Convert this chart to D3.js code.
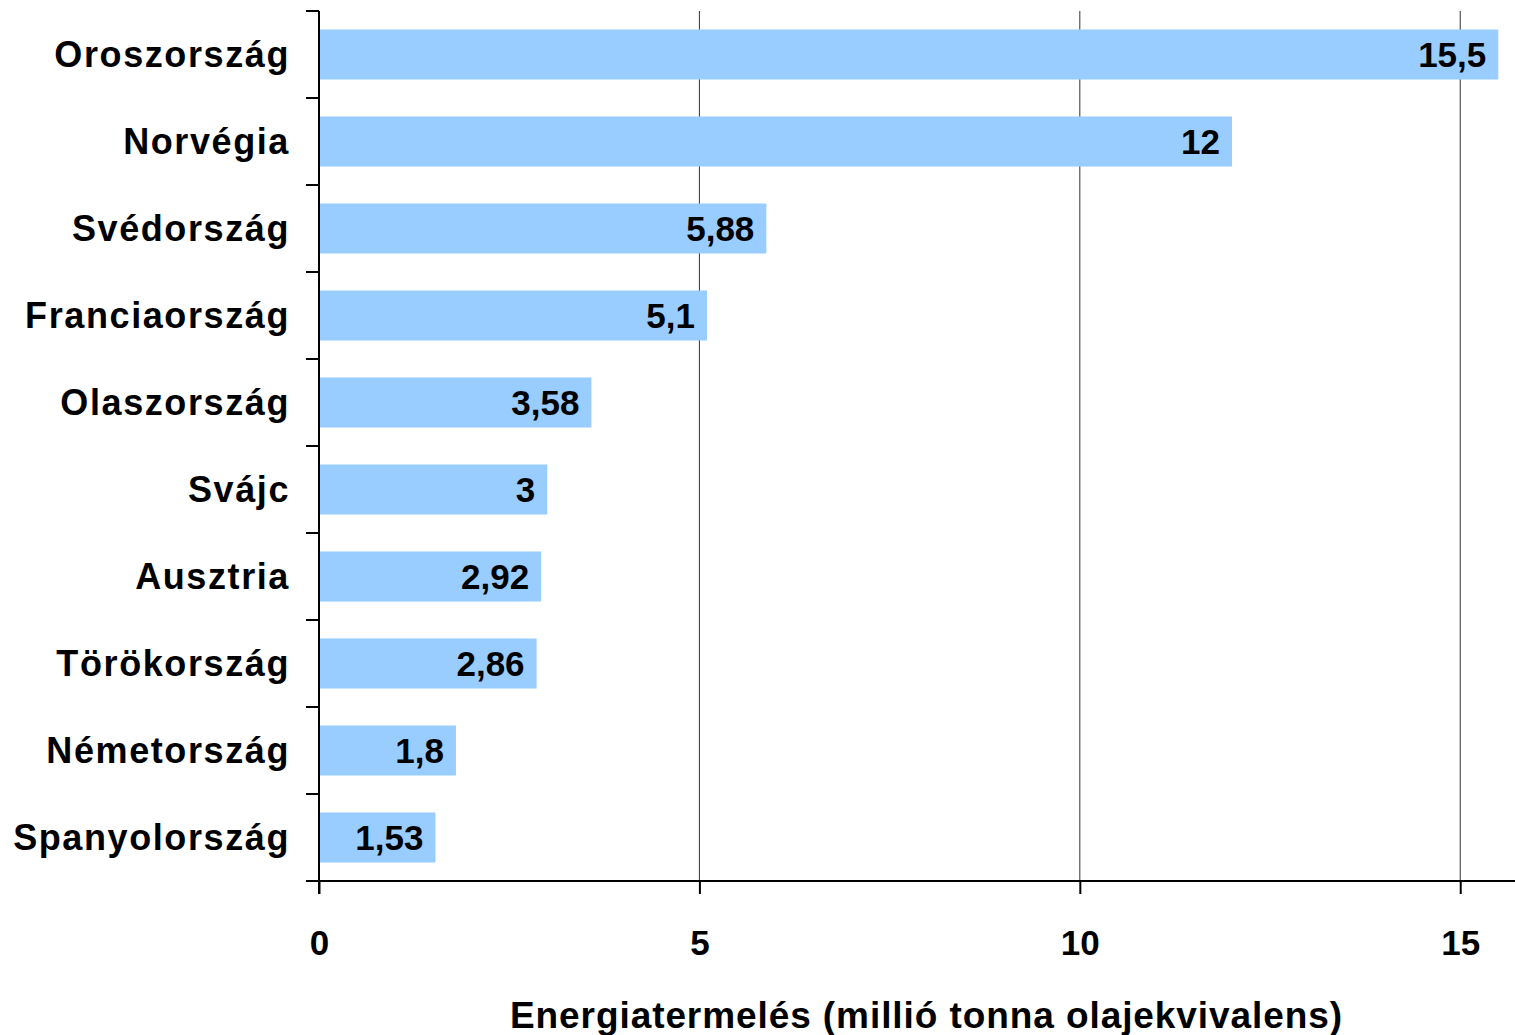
<!DOCTYPE html>
<html>
<head>
<meta charset="utf-8">
<script src="https://cdn.jsdelivr.net/npm/d3@7"></script>
<style>
  html, body { margin: 0; padding: 0; background: #fff; }
  svg { display: block; }
  text { font-family: Arial, "Liberation Sans", sans-serif; font-weight: bold; fill: #000; }
</style>
</head>
<body>
<svg id="chart" width="1515" height="1035"></svg>
<script>
// Energy production by country (million tonnes of oil equivalent)
const countries = ["Oroszország", "Norvégia", "Svédország", "Franciaország", "Olaszország",
                   "Svájc", "Ausztria", "Törökország", "Németország", "Spanyolország"];
const values = [15.5, 12, 5.88, 5.1, 3.58, 3, 2.92, 2.86, 1.8, 1.53];
const xTicks = [0, 5, 10, 15];
const axisTitle = "Energiatermelés (millió tonna olajekvivalens)";

const svg = d3.select("#chart");
const plotLeft = 319, plotRight = 1515, plotTop = 11, plotBottom = 881;

const x = d3.scaleLinear().domain([0, 15.72]).range([plotLeft, plotRight]);
const y = d3.scaleBand().domain(countries).range([plotTop, plotBottom])
  .paddingInner(0.425).paddingOuter(0.2125);

const fmt = v => String(v).replace(".", ",");

// vertical gridlines
svg.append("g").selectAll("line").data(xTicks.filter(t => t > 0)).join("line")
  .attr("x1", d => x(d)).attr("x2", d => x(d))
  .attr("y1", plotTop).attr("y2", plotBottom)
  .attr("stroke", "#333").attr("stroke-width", 1);

// bars
svg.append("g").selectAll("rect").data(values).join("rect")
  .attr("x", x(0))
  .attr("y", (d, i) => y(countries[i]))
  .attr("width", d => x(d) - x(0))
  .attr("height", y.bandwidth())
  .attr("fill", "#99CCFF");

// value labels inside bar ends
svg.append("g").selectAll("text").data(values).join("text")
  .attr("x", d => x(d) - 12)
  .attr("y", (d, i) => y(countries[i]) + y.bandwidth() / 2)
  .attr("dy", "0.35em")
  .attr("text-anchor", "end")
  .attr("font-size", 35)
  .text(d => fmt(d));

// x axis
const xAxis = d3.axisBottom(x).tickValues(xTicks).tickSize(13).tickPadding(36).tickFormat(d => d);
const gx = svg.append("g").attr("transform", `translate(0,${plotBottom})`).call(xAxis);
gx.select(".domain").remove();
gx.selectAll(".tick line").attr("stroke", "#000").attr("stroke-width", 2);
gx.selectAll(".tick text").attr("font-size", 35).attr("font-family", null).attr("fill", "#000");
svg.append("line").attr("x1", plotLeft - 13).attr("x2", plotRight).attr("y1", plotBottom).attr("y2", plotBottom)
  .attr("stroke", "#000").attr("stroke-width", 2);

// y axis with ticks at category boundaries
svg.append("line").attr("x1", plotLeft).attr("x2", plotLeft).attr("y1", plotTop).attr("y2", plotBottom + 13)
  .attr("stroke", "#000").attr("stroke-width", 2);
const bounds = d3.range(countries.length).map(i => plotTop + i * y.step());
svg.append("g").selectAll("line").data(bounds).join("line")
  .attr("x1", plotLeft - 13).attr("x2", plotLeft)
  .attr("y1", d => d).attr("y2", d => d)
  .attr("stroke", "#000").attr("stroke-width", 2);

// category labels
svg.append("g").selectAll("text").data(countries).join("text")
  .attr("x", 290)
  .attr("y", d => y(d) + y.bandwidth() / 2)
  .attr("dy", "0.35em")
  .attr("text-anchor", "end")
  .attr("font-size", 36)
  .attr("letter-spacing", "1.6px")
  .text(d => d);

// axis title
svg.append("text")
  .attr("x", 926).attr("y", 1028)
  .attr("text-anchor", "middle")
  .attr("font-size", 37)
  .attr("textLength", 832)
  .attr("lengthAdjust", "spacing")
  .text(axisTitle);
</script>
</body>
</html>
